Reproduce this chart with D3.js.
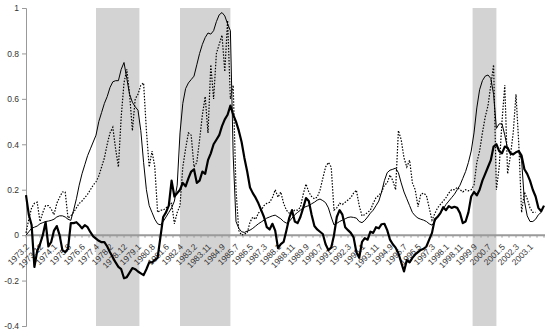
<!DOCTYPE html>
<html>
<head>
<meta charset="utf-8">
<script src="https://cdn.jsdelivr.net/npm/d3@7"></script>
<style>
body{margin:0;background:#fff}
text{font-family:"Liberation Sans",Arial,sans-serif}
</style>
</head>
<body>
<script>
const W = 550, H = 334

// one stored value every STEP months, first one is 1973.2
const STEP = 2
const lastIndex = 370

const tickLabels = ["1973.2","1973.12","1974.1","1975.8","1976.6","1977.4","1978.2","1978.12","1979.1",
  "1980.8","1981.6","1982.4","1983.2","1983.11","1984.9","1985.7","1986.5","1987.3","1988.1",
  "1988.11","1989.9","1990.7","1991.5","1992.3","1993.1","1993.11","1994.9","1995.7","1996.5",
  "1997.3","1998.1","1998.11","1999.9","2000.7","2001.5","2002.3","2003.1"]
const labelEvery = 10

const yTicks = [1, 0.8, 0.6, 0.4, 0.2, 0, -0.2, -0.4]

// shaded periods, as month indexes
const bands = [[50, 81], [110, 146], [319, 336]]

const thin = [
  0.00,0.015,0.03,0.035,0.04,0.05,0.055,0.06,0.062,0.065,
  0.07,0.08,0.085,0.085,0.08,0.07,0.065,0.11,0.16,0.22,
  0.27,0.31,0.35,0.38,0.41,0.44,0.5,0.54,0.58,0.61,
  0.65,0.675,0.68,0.68,0.73,0.76,0.69,0.62,0.585,0.565,
  0.55,0.46,0.32,0.2,0.13,0.1,0.07,0.05,0.045,0.06,
  0.08,0.1,0.12,0.15,0.22,0.45,0.58,0.645,0.67,0.685,
  0.7,0.75,0.8,0.84,0.87,0.89,0.885,0.9,0.94,0.97,
  0.98,0.965,0.93,0.9,0.35,0.06,0.03,0.015,0.012,0.018,
  0.022,0.03,0.04,0.05,0.058,0.066,0.075,0.08,0.085,0.088,
  0.08,0.072,0.06,0.053,0.06,0.075,0.09,0.1,0.11,0.12,
  0.126,0.13,0.138,0.145,0.154,0.159,0.152,0.143,0.12,0.08,
  0.045,0.052,0.06,0.066,0.072,0.078,0.08,0.078,0.075,0.06,
  0.055,0.065,0.08,0.097,0.11,0.13,0.15,0.19,0.24,0.275,
  0.286,0.29,0.295,0.275,0.23,0.19,0.16,0.13,0.1,0.085,
  0.075,0.07,0.066,0.06,0.05,0.044,0.06,0.08,0.097,0.115,
  0.135,0.15,0.165,0.18,0.2,0.22,0.25,0.28,0.32,0.37,
  0.45,0.56,0.64,0.68,0.7,0.705,0.69,0.62,0.47,0.49,
  0.49,0.44,0.38,0.36,0.36,0.365,0.37,0.33,0.15,0.085,
  0.06,0.06,0.07,0.09,0.1,null]

const thick = [
  0.176,0.09,0.045,-0.14,-0.07,-0.04,0.0,0.057,-0.05,-0.03,
  0.02,0.04,0.0,-0.066,-0.075,-0.06,0.053,0.053,0.057,0.045,
  0.03,0.044,0.035,0.013,-0.005,-0.015,-0.025,-0.031,-0.031,-0.05,
  -0.075,-0.097,-0.12,-0.14,-0.15,-0.19,-0.185,-0.165,-0.145,-0.15,
  -0.16,-0.168,-0.176,-0.15,-0.12,-0.12,-0.11,-0.1,-0.01,0.08,
  0.1,0.13,0.24,0.17,0.185,0.2,0.23,0.215,0.25,0.28,
  0.29,0.23,0.24,0.28,0.27,0.33,0.36,0.4,0.42,0.44,
  0.48,0.51,0.53,0.57,0.53,0.5,0.46,0.41,0.34,0.28,
  0.21,0.185,0.165,0.14,0.11,0.08,0.035,0.025,0.05,0.02,
  -0.057,-0.04,-0.03,0.02,0.075,0.11,0.06,0.053,0.08,0.12,
  0.163,0.15,0.09,0.04,0.025,0.015,0.005,-0.04,-0.066,-0.055,
  0.0,0.08,0.11,0.09,0.035,0.022,0.01,-0.01,-0.075,-0.1,
  -0.03,-0.013,-0.02,0.015,0.01,0.035,0.03,0.048,0.05,0.022,
  -0.02,-0.04,-0.055,-0.08,-0.12,-0.16,-0.11,-0.12,-0.1,-0.085,
  -0.075,-0.065,-0.06,-0.05,-0.02,0.01,0.07,0.08,0.097,0.123,
  0.11,0.128,0.12,0.125,0.12,0.097,0.053,0.06,0.1,0.17,
  0.19,0.175,0.2,0.24,0.27,0.3,0.33,0.39,0.4,0.37,
  0.36,0.39,0.385,0.36,0.355,0.365,0.37,0.35,0.29,0.27,
  0.24,0.2,0.17,0.12,0.105,0.13]

const dotted = [
  0.01,0.07,0.12,0.14,0.145,0.06,0.1,0.13,0.13,0.115,
  0.09,0.14,0.167,0.19,0.19,0.075,0.085,0.1,0.12,0.14,
  0.15,0.165,0.18,0.2,0.22,0.235,0.26,0.3,0.34,0.4,
  0.45,0.475,0.38,0.3,0.52,0.67,0.73,0.62,0.46,0.6,
  0.62,0.66,0.67,0.46,0.3,0.37,0.3,0.1,0.11,0.11,
  0.12,0.13,0.14,0.05,0.1,0.13,0.3,0.38,0.45,0.44,
  0.3,0.32,0.42,0.53,0.61,0.45,0.75,0.6,0.8,0.84,
  0.88,0.72,0.945,0.6,0.66,0.2,0.02,0.0,0.005,0.01,
  0.057,0.08,0.07,0.097,0.11,0.13,0.14,0.145,0.165,0.2,
  0.167,0.19,0.14,0.11,0.097,0.1,0.11,0.11,0.123,0.18,
  0.225,0.19,0.17,0.16,0.167,0.198,0.25,0.3,0.32,0.3,
  0.11,0.12,0.14,0.135,0.145,0.155,0.165,0.185,0.198,0.13,
  0.085,0.09,0.1,0.11,0.14,0.165,0.175,0.19,0.22,0.23,
  0.265,0.24,0.2,0.46,0.42,0.34,0.3,0.33,0.23,0.2,
  0.125,0.18,0.185,0.175,0.12,0.066,0.095,0.12,0.135,0.15,
  0.165,0.185,0.2,0.2,0.21,0.2,0.19,0.2,0.195,0.2,
  0.22,0.32,0.37,0.45,0.52,0.57,0.66,0.75,0.2,0.3,
  0.5,0.66,0.27,0.35,0.45,0.62,0.4,0.1,0.19,0.16,
  0.12,0.1,0.1,null,null,null]

const svg = d3.select("body").append("svg")
  .attr("width", W)
  .attr("height", H)

const x = d3.scaleLinear().domain([0, lastIndex]).range([26, 544])
const y = d3.scaleLinear().domain([-0.4, 1]).range([326, 8])

// grey bands
svg.append("g").selectAll("rect")
  .data(bands)
  .enter()
  .append("rect")
  .attr("x", d => x(d[0]))
  .attr("width", d => x(d[1]) - x(d[0]))
  .attr("y", y(1))
  .attr("height", y(-0.4) - y(1))
  .attr("fill", "#d3d3d3")

// value axis
const yAxis = svg.append("g")
  .attr("transform", "translate(" + x(0) + ",0)")
  .call(d3.axisLeft(y).tickValues(yTicks).tickSize(4).tickPadding(3).tickFormat(d => String(d)))
yAxis.select(".domain").attr("stroke", "#999")
yAxis.selectAll(".tick line").attr("stroke", "#999")
yAxis.selectAll("text").attr("font-size", 8.5).attr("fill", "#333")
  .style("font-family", "'Liberation Sans', Arial, sans-serif")

// category axis along zero
const zeroY = y(0)
svg.append("line")
  .attr("x1", x(0)).attr("x2", x(lastIndex) + 1)
  .attr("y1", zeroY).attr("y2", zeroY)
  .attr("stroke", "#9a9a9a")
  .attr("stroke-width", 2)

svg.append("g").selectAll("line")
  .data(d3.range(0, lastIndex + 1, 5))
  .enter()
  .append("line")
  .attr("x1", d => x(d)).attr("x2", d => x(d))
  .attr("y1", zeroY).attr("y2", zeroY + 2.5)
  .attr("stroke", "#9a9a9a")

svg.append("g").selectAll("text")
  .data(tickLabels)
  .enter()
  .append("text")
  .attr("transform", (d, i) => "translate(" + (x(i * labelEvery) - 0.5) + "," + (zeroY + 8) + ") rotate(-45)")
  .attr("text-anchor", "end")
  .attr("dy", "0.7em")
  .attr("font-size", 8.5)
  .attr("fill", "#333")
  .text(d => d)

// series
const line = d3.line()
  .defined(d => d != null)
  .x((d, i) => x(i * STEP))
  .y(d => y(d))

svg.append("path")
  .datum(thin)
  .attr("d", line)
  .attr("fill", "none")
  .attr("stroke", "#000")
  .attr("stroke-width", 1)

svg.append("path")
  .datum(dotted)
  .attr("d", line)
  .attr("fill", "none")
  .attr("stroke", "#000")
  .attr("stroke-width", 1.2)
  .attr("stroke-dasharray", "1.5,1.5")

svg.append("path")
  .datum(thick)
  .attr("d", line)
  .attr("fill", "none")
  .attr("stroke", "#000")
  .attr("stroke-width", 2.2)
  .attr("stroke-linejoin", "round")
</script>
</body>
</html>
